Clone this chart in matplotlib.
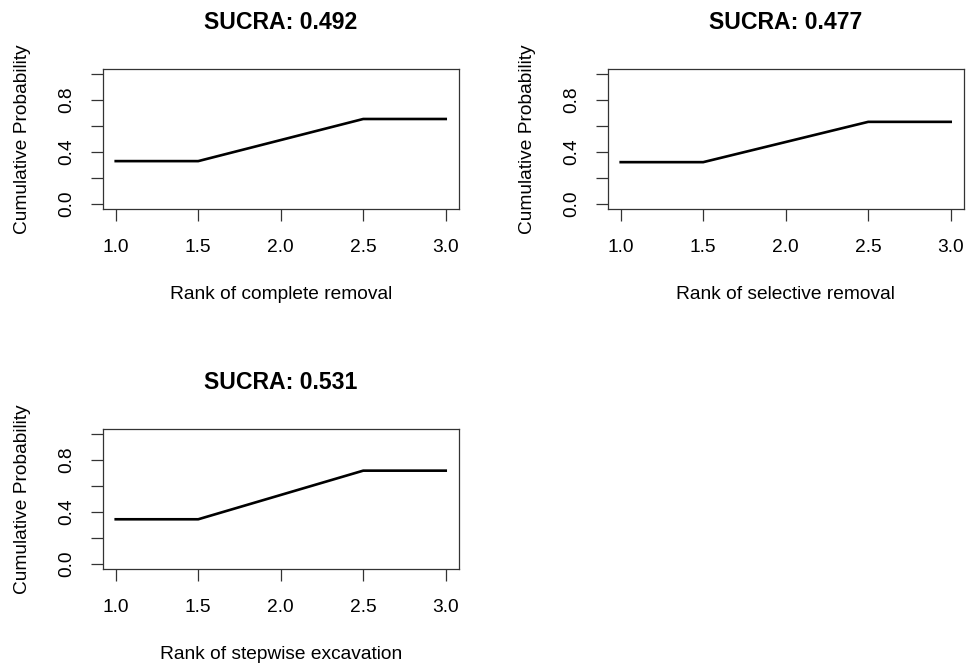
"""
Rankograms: cumulative ranking probability per treatment with SUCRA
"""
import matplotlib

matplotlib.use("Agg")
import matplotlib.pyplot as plt  # noqa:E402

# ranks along the x axis (plateaus at either end)
ranks = [1.0, 1.5, 2.5, 3.0]

# cumulative probability of ranking 1st / within the top 2
complete_cum = [0.330, 0.330, 0.654, 0.654]
selective_cum = [0.322, 0.322, 0.632, 0.632]
stepwise_cum = [0.344, 0.344, 0.718, 0.718]

sucra = [0.492, 0.477, 0.531]
treatments = ["complete removal", "selective removal", "stepwise excavation"]

x_ticks = [1.0, 1.5, 2.0, 2.5, 3.0]
y_ticks = [0.0, 0.2, 0.4, 0.6, 0.8, 1.0]
y_ticklabels = ["0.0", "", "0.4", "", "0.8", ""]


def draw_panel(ax, y, score, name):
    ax.plot(ranks, y, color="black", lw=1.9, solid_joinstyle="round")
    ax.set_xlim(0.92, 3.08)
    ax.set_ylim(-0.04, 1.04)

    ax.set_xticks(x_ticks)
    ax.set_xticklabels([f"{t:.1f}" for t in x_ticks])
    ax.set_yticks(y_ticks)
    ax.set_yticklabels(y_ticklabels, rotation=90, va="center")
    ax.tick_params(
        direction="out", length=8.6, width=0.9, color="#333333",
        labelsize=13.8, pad=13,
    )
    ax.tick_params(axis="y", pad=11)
    for spine in ax.spines.values():
        spine.set_linewidth(0.9)
        spine.set_color("#333333")

    ax.text(0.5, 1.33, f"SUCRA: {score:.3f}", transform=ax.transAxes,
            ha="center", va="center", fontsize=16.6, fontweight="bold")
    ax.text(0.5, -0.61, f"Rank of {name}", transform=ax.transAxes,
            ha="center", va="center", fontsize=13.8)
    ax.text(-0.225, 0.5, "Cumulative Probability", transform=ax.transAxes,
            ha="center", va="center", rotation=90, fontsize=13.8)


def main():
    plt.rcParams["font.family"] = ["Liberation Sans", "DejaVu Sans"]

    fig = plt.figure(figsize=(9.70, 6.68), dpi=100)
    width, height = 0.3674, 0.2102
    positions = [
        [0.1057, 0.6868, width, height],
        [0.6263, 0.6868, width, height],
        [0.1057, 0.1479, width, height],
    ]
    series = [complete_cum, selective_cum, stepwise_cum]

    for pos, y, score, name in zip(positions, series, sucra, treatments):
        ax = fig.add_axes(pos)
        draw_panel(ax, y, score, name)

    fig.savefig("out.png", dpi=100)
    plt.close(fig)


if __name__ == "__main__":
    main()
